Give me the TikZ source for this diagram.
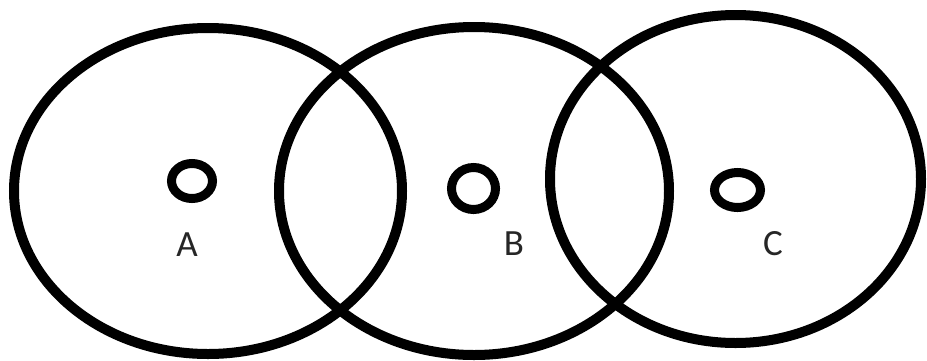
\documentclass[tikz,border=0pt]{standalone}
\usepackage{fontspec}
\newfontfamily\labelfont{Carlito}
\usetikzlibrary{shapes.geometric}
\tikzset{
  bigring/.style={ellipse, draw=black, line width=10pt, inner sep=0pt, outer sep=0pt},
  smallring/.style={ellipse, draw=black, line width=9pt, inner sep=0pt, outer sep=0pt},
  letter/.style={text=black!85, font=\labelfont\fontsize{37}{37}\selectfont, inner sep=0pt}
}
\begin{document}
\begin{tikzpicture}[x=1pt,y=-1pt]
\useasboundingbox (0,0) rectangle (927,360);
\fill[white] (0,0) rectangle (927,360);
% big circles
\node[bigring, minimum width=388pt, minimum height=326pt] (cA) at (208,191) {};
\node[bigring, minimum width=390pt, minimum height=328pt] (cB) at (474,191) {};
\node[bigring, minimum width=371pt, minimum height=328pt] (cC) at (735.5,179) {};
% small rings
\node[smallring, minimum width=41pt, minimum height=35pt] (pA) at (192,181) {};
\node[smallring, minimum width=44pt, minimum height=42pt] (pB) at (473.5,188.5) {};
\node[smallring, minimum width=46pt, minimum height=35pt] (pC) at (737.5,190) {};
% labels
\node[letter] (lA) at (187,245) {A};
\node[letter] (lB) at (514,244) {B};
\node[letter] (lC) at (773,244) {C};
\end{tikzpicture}
\end{document}
